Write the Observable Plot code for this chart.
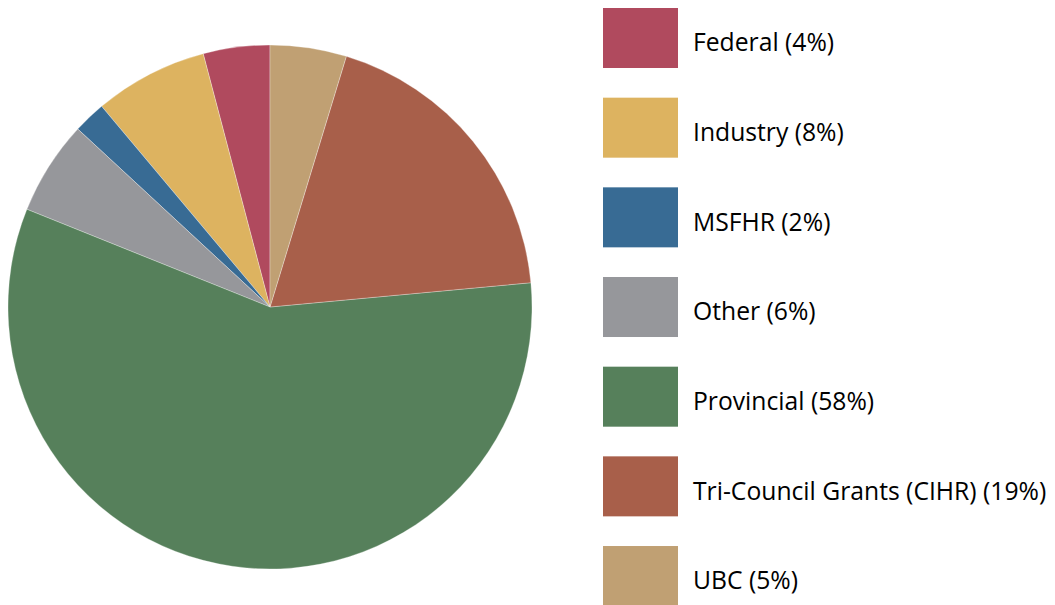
<!DOCTYPE html>
<html>
<head>
<meta charset="utf-8">
<script src="https://cdn.jsdelivr.net/npm/d3@7"></script>
<script src="https://cdn.jsdelivr.net/npm/@observablehq/plot@0.6"></script>
<style>
  html, body { margin: 0; padding: 0; background: #fff; }
</style>
</head>
<body>
<div id="chart"></div>
<script>
// Categories in legend order (pie runs counter-clockwise from 12 o'clock in this order)
const categories = ["Federal", "Industry", "MSFHR", "Other", "Provincial", "Tri-Council Grants (CIHR)", "UBC"];
// Slice shares (percent of the circle)
const shares = [4.1, 7.0, 2.0, 5.8, 57.5, 18.8, 4.7];
// Percentages printed in the legend
const labelPercents = [4, 8, 2, 6, 58, 19, 5];
const colors = ["#b04a5e", "#ddb360", "#386b94", "#96979b", "#56805b", "#a85f4a", "#c0a073"];

const data = categories.map((name, i) => ({
  name,
  share: shares[i],
  label: `${name} (${labelPercents[i]}%)`
}));

const W = 1055, H = 605;
const cx = 270, cy = 307, R = 262;

function pieMark(index, scales, values, dimensions, context) {
  const arcs = d3.pie().sort(null).value(d => d.share).startAngle(0).endAngle(-2 * Math.PI)(data);
  const arc = d3.arc().innerRadius(0).outerRadius(R);
  const g = d3.create("svg:g").attr("transform", `translate(${cx},${cy})`);
  g.selectAll("path")
    .data(arcs)
    .join("path")
    .attr("d", arc)
    .attr("fill", d => scales.color(d.data.name))
    .attr("stroke", "#ffffff")
    .attr("stroke-opacity", 0.5)
    .attr("stroke-width", 0.6);
  return g.node();
}

const n = categories.length;
const step = 89.67, band = 60;
const pInner = (step - band) / step;

const chart = Plot.plot({
  width: W,
  height: H,
  margin: 0,
  style: { background: "#fff" },
  x: { type: "band", domain: ["swatch"], range: [603, 678], padding: 0, round: false, axis: null },
  y: { type: "band", domain: categories, range: [8, 8 + step * (n - pInner)], paddingInner: pInner, paddingOuter: 0, round: false, axis: null },
  color: { domain: categories, range: colors },
  marks: [
    pieMark,
    Plot.cell(data, { x: () => "swatch", y: "name", fill: "name", inset: 0 }),
    Plot.text(data, {
      x: () => "swatch", y: "name", text: "label",
      textAnchor: "start", dx: 52, dy: 5,
      fontSize: 24.7, fontFamily: "Open Sans", fill: "#000"
    })
  ]
});
document.getElementById("chart").appendChild(chart);
</script>
</body>
</html>
